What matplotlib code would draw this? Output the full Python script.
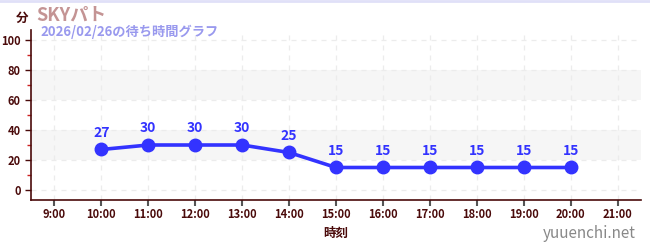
import matplotlib
matplotlib.use("Agg")
import matplotlib.pyplot as plt
from matplotlib.ticker import MultipleLocator

plt.rcParams['font.family'] = ['Noto Sans CJK JP', 'DejaVu Sans']

hours = [10, 11, 12, 13, 14, 15, 16, 17, 18, 19, 20]
waits = [27, 30, 30, 30, 25, 15, 15, 15, 15, 15, 15]
tick_hours = list(range(9, 22))
tick_labels = [f"{h}:00" for h in tick_hours]
title = "SKYパト"
subtitle = "2026/02/26の待ち時間グラフ"

dark = "#4a0a0a"
blue = "#3333ff"

fig = plt.figure(figsize=(6.5, 2.5), dpi=100)
ax = fig.add_axes([31/650, 50/250, 610/650, 170/250])
ax.set_xlim(8.5, 21.5)
ax.set_ylim(-6.67, 106.67)

for lo, hi in [(20, 40), (60, 80)]:
    ax.axhspan(lo, hi, color="#f6f6f6", zorder=0, lw=0)

ax.set_xticks(tick_hours)
ax.set_xticklabels(tick_labels)
ax.set_yticks(range(0, 101, 20))
ax.yaxis.set_minor_locator(MultipleLocator(10))
ax.grid(True, which="major", color="#ececec", linestyle=(0, (4, 4)), lw=0.9, zorder=0)

for s in ["top", "right"]:
    ax.spines[s].set_visible(False)
for s in ["left", "bottom"]:
    ax.spines[s].set_color(dark)
    ax.spines[s].set_linewidth(1.2)

ax.tick_params(axis="both", which="major", colors=dark, labelsize=8, length=4, width=1)
ax.tick_params(axis="x", which="major", color="#555555", length=4, width=1.5, pad=2)
ax.tick_params(axis="y", which="minor", color="#cc2222", length=3, width=1)
for lbl in ax.get_xticklabels() + ax.get_yticklabels():
    lbl.set_fontweight("bold")

ax.plot(hours, waits, color=blue, lw=2.6, marker="o", markersize=9, zorder=3)
for h, w in zip(hours, waits):
    ax.annotate(str(w), (h, w), xytext=(0, 7), textcoords="offset points",
                ha="center", va="bottom", color=blue, fontsize=10, fontweight="bold")

ax.set_xlabel("時刻", color=dark, fontsize=9, fontweight="bold", labelpad=4)

fig.text(22/650, 1 - 18/250, "分", color=dark, fontsize=9, fontweight="bold", ha="center", va="center")
fig.text(36/650, 1 - 15/250, title, color="#c49494", fontsize=13, fontweight="bold", ha="left", va="center")
fig.text(40/650, 1 - 32/250, subtitle, color="#9999ee", fontsize=9.5, fontweight="bold", ha="left", va="center")
fig.text(636/650, 1 - 233/250, "yuuenchi.net", color="#888888", fontsize=11, ha="right", va="center")

fig.add_artist(plt.Line2D([0, 1], [1 - 1/250, 1 - 1/250], transform=fig.transFigure, color="#e0e0f8", lw=2))

fig.savefig("out.png", dpi=100)
